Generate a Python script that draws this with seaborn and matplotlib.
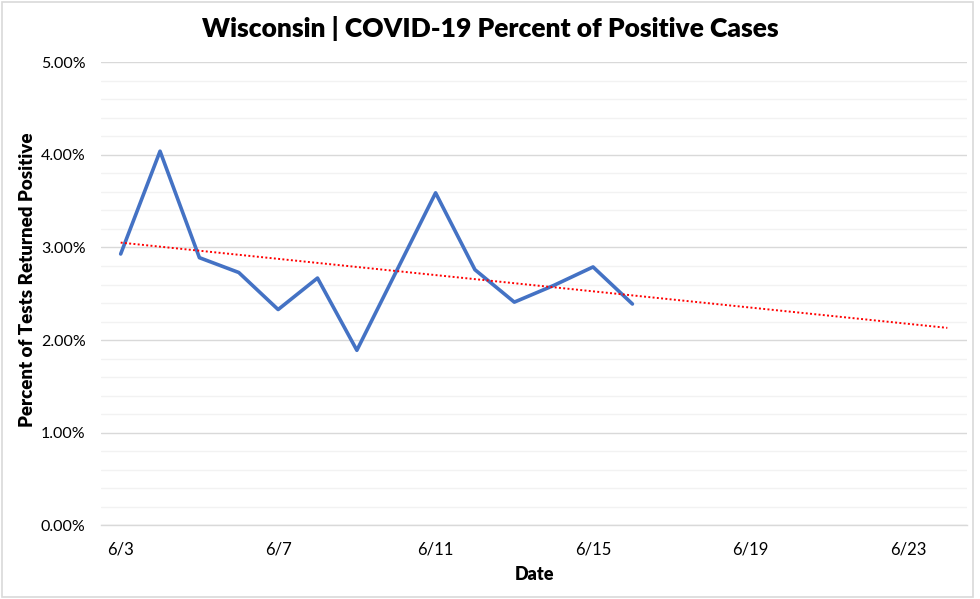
import matplotlib
matplotlib.use("Agg")
import matplotlib.pyplot as plt
from matplotlib.patches import Rectangle
from matplotlib.ticker import FuncFormatter, MultipleLocator, FixedLocator
import seaborn as sns
import numpy as np
import pandas as pd

# %% data
dates = ["6/3", "6/4", "6/5", "6/6", "6/7", "6/8", "6/9", "6/10",
         "6/11", "6/12", "6/13", "6/14", "6/15", "6/16"]
pct_positive = [2.93, 4.04, 2.89, 2.73, 2.33, 2.67, 1.89, 2.74,
                3.59, 2.76, 2.41, 2.59, 2.79, 2.39]
axis_dates = ["6/3", "6/4", "6/5", "6/6", "6/7", "6/8", "6/9", "6/10", "6/11",
              "6/12", "6/13", "6/14", "6/15", "6/16", "6/17", "6/18", "6/19",
              "6/20", "6/21", "6/22", "6/23", "6/24"]
label_dates = ["6/3", "6/7", "6/11", "6/15", "6/19", "6/23"]

df = pd.DataFrame({"day": [axis_dates.index(d) for d in dates],
                   "pct": pct_positive})

# linear trend, forecast to the end of the axis
coef = np.polyfit(df["day"], df["pct"], 1)
trend = pd.DataFrame({"day": np.arange(len(axis_dates))})
trend["pct"] = np.polyval(coef, trend["day"])

# %% plot
sns.set_style("white")
plt.rcParams["font.family"] = ["Lato", "DejaVu Sans"]
plt.rcParams["text.color"] = "black"
plt.rcParams["axes.labelcolor"] = "black"
plt.rcParams["xtick.color"] = "black"
plt.rcParams["ytick.color"] = "black"

fig = plt.figure(figsize=(9.8, 5.99), dpi=100)
ax = fig.add_axes([101 / 980, 1 - 525.3 / 599, 866 / 980, 463 / 599])

sns.lineplot(data=df, x="day", y="pct", ax=ax, color="#4472C4",
             linewidth=2.6, zorder=3)
sns.lineplot(data=trend, x="day", y="pct", ax=ax, color="#FF0000",
             linewidth=1.4, linestyle=(0, (1, 1.2)), zorder=4)

ax.set_xlim(-0.5, len(axis_dates) - 0.5)
ax.set_ylim(0, 5)

# y grid: major every 1%, minor every 0.2%
ax.yaxis.set_major_locator(MultipleLocator(1))
ax.yaxis.set_minor_locator(MultipleLocator(0.2))
ax.yaxis.set_major_formatter(FuncFormatter(lambda v, p: f"{v:.2f}%"))
ax.grid(axis="y", which="major", color="#D9D9D9", linewidth=1.0, zorder=0)
ax.grid(axis="y", which="minor", color="#F2F2F2", linewidth=1.0, zorder=0)
ax.tick_params(axis="y", which="both", length=0, pad=11, labelsize=11.5)

# x: labels centred in day slots, tick marks at slot edges
ax.xaxis.set_major_locator(FixedLocator([axis_dates.index(d) for d in label_dates]))
ax.set_xticklabels(label_dates)
ax.xaxis.set_minor_locator(FixedLocator([axis_dates.index(d) - 0.5 for d in label_dates]))
ax.tick_params(axis="x", which="major", length=0, pad=12, labelsize=12)
ax.tick_params(axis="x", which="minor", length=5, color="#D9D9D9", width=1.0)

for s in ["top", "right", "left"]:
    ax.spines[s].set_visible(False)
ax.spines["bottom"].set_color("#D9D9D9")
ax.spines["bottom"].set_linewidth(1.0)

ax.set_xlabel("Date", fontsize=13, fontweight="heavy", labelpad=6)
ax.set_ylabel("Percent of Tests Returned Positive", fontsize=13.5,
              fontweight="heavy")
ax.yaxis.set_label_coords(-0.0745, 0.53)
fig.text(0.5, 0.952, "Wisconsin | COVID-19 Percent of Positive Cases",
         ha="center", va="center", fontsize=19, fontweight="heavy")

# light frame around the chart area
fig.patches.append(Rectangle((0.002, 0.004), 0.991, 0.992, transform=fig.transFigure,
                             fill=False, edgecolor="#D9D9D9", linewidth=1.2))

fig.savefig("out.png", dpi=100, facecolor="white")
